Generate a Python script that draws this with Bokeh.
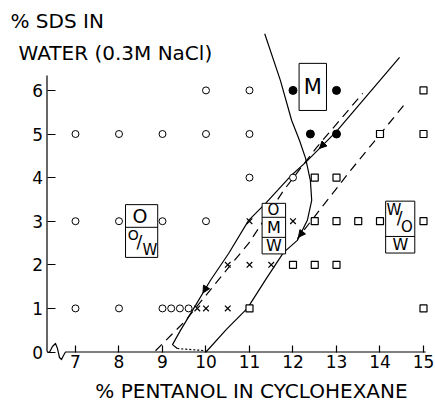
from bokeh.plotting import figure
from bokeh.models import Range1d, FixedTicker, Arrow, NormalHead
from bokeh.embed import file_html
from bokeh.resources import INLINE
from bokeh.core.properties import value

FONT = "DejaVu Sans"

# ---------------- data ----------------
x_ticks = [7, 8, 9, 10, 11, 12, 13, 14, 15]
y_ticks = [0, 1, 2, 3, 4, 5, 6]

# open circles
open_x = [10, 11, 7, 8, 9, 10, 11, 11, 12, 7, 8, 9, 10, 7, 8, 9, 9.2, 9.4, 9.6]
open_y = [6, 6, 5, 5, 5, 5, 5, 4, 4, 3, 3, 3, 3, 1, 1, 1, 1, 1, 1]
# filled circles
filled_x = [12, 13, 12.4, 13]
filled_y = [6, 6, 5, 5]
# crosses
cross_x = [9.8, 10, 10.5, 10.5, 11, 11.5, 11, 12]
cross_y = [1, 1, 1, 2, 2, 2, 3, 3]
# squares
square_x = [11, 15, 12, 12.5, 13, 12.5, 13, 13.5, 14, 15, 12.5, 13, 14, 15, 15]
square_y = [1, 1, 2, 2, 2, 3, 3, 3, 3, 3, 4, 4, 5, 5, 6]

# solid curve A (steep upper branch + right side of the lens)
curve_a_x = [11.35, 11.71, 11.97, 12.15, 12.29, 12.40, 12.43, 12.33, 12.10, 11.78, 11.39, 10.95, 10.47, 10.0]
curve_a_y = [7.30, 6.23, 5.31, 4.85, 4.44, 3.93, 3.48, 3.02, 2.56, 2.28, 1.69, 1.00, 0.52, 0.0]
# solid curve B (upper diagonal + left side of the lens)
curve_b_x = [14.45, 13.00, 12.29, 11.94, 11.37, 10.98, 10.52, 10.10, 9.76, 9.41, 9.23, 9.34]
curve_b_y = [6.76, 5.06, 4.35, 4.03, 3.41, 3.02, 2.26, 1.64, 1.07, 0.49, 0.17, 0.08]
# dotted closing segment along the bottom
dotted_x = [9.34, 10.0]
dotted_y = [0.08, 0.03]
# dashed lines
dash1_x = [8.84, 9.51, 10.52, 10.98, 11.78, 12.54, 13.60]
dash1_y = [0.03, 0.70, 1.94, 2.49, 3.70, 4.69, 5.93]
dash2_x = [14.54, 13.32, 12.10]
dash2_y = [5.65, 4.16, 2.60]

# phase boxes: left, right, top, bottom, dividers
boxes = [
    dict(l=12.14, r=12.77, t=6.62, b=5.54, div=[]),
    dict(l=11.29, r=11.83, t=3.41, b=2.25, div=[3.09, 2.63]),
    dict(l=14.13, r=14.80, t=3.46, b=2.27, div=[2.65]),
    dict(l=8.15, r=8.89, t=3.38, b=2.17, div=[2.86]),
]
box_text = ["M", "O", "M", "W", "W", "/", "O", "W", "O", "O", "/", "W"]
box_text_x = [12.455, 11.55, 11.56, 11.56, 14.32, 14.45, 14.62, 14.47, 8.48, 8.33, 8.47, 8.71]
box_text_y = [6.08, 3.25, 2.86, 2.44, 3.26, 3.08, 2.86, 2.46, 3.12, 2.69, 2.52, 2.35]
box_text_size = ["21px", "15px", "16px", "16px", "15px", "17px", "15px", "16px", "19px", "14px", "17px", "15px"]

# axis titles
y_title = ["% SDS IN", "WATER (0.3M NaCl)"]
x_title = "% PENTANOL IN CYCLOHEXANE"

# ---------------- figure ----------------
p = figure(width=435, height=402, title=None,
           x_range=Range1d(5.276, 15.276), y_range=Range1d(-1.158, 8.062),
           output_backend="svg", toolbar_location=None,
           min_border_left=0, min_border_right=0, min_border_top=0, min_border_bottom=0)
p.outline_line_color = None
p.grid.visible = False
p.background_fill_color = "white"

AX_X = 6.345   # position of the vertical axis (x data units)
AX_TOP = 6.34  # top of the vertical axis line

for ax, ticks in ((p.xaxis, x_ticks), (p.yaxis, y_ticks)):
    ax.ticker = FixedTicker(ticks=ticks)
    ax.axis_line_color = None
    ax.major_tick_out = 0
    ax.minor_tick_line_color = None
    ax.major_label_text_font = FONT
    ax.major_label_text_font_size = "17px"
    ax.major_label_text_color = "black"
    ax.major_tick_line_color = "black"
    ax.major_tick_line_width = 1.2
p.xaxis.fixed_location = 0
p.yaxis.fixed_location = AX_X
p.xaxis.major_tick_in = 7
p.xaxis.major_label_standoff = 3
p.yaxis.major_tick_in = 8
p.yaxis.major_label_standoff = 4

# axis lines, with the break symbol on the horizontal axis
p.line([AX_X, AX_X], [0.01, AX_TOP], line_color="black", line_width=1.2)
brk_x = [AX_X, 6.40, 6.47, 6.54, 6.586, 6.632, 6.678, 6.724, 6.77, 15.05]
brk_y = [0.01, -0.01, 0.126, 0.195, 0.08, -0.126, -0.172, -0.08, 0.0, 0.0]
p.line(brk_x, brk_y, line_color="black", line_width=1.2, line_join="round")

# curves
p.line(curve_a_x, curve_a_y, line_color="black", line_width=1.2)
p.line(curve_b_x, curve_b_y, line_color="black", line_width=1.2)
p.line(dotted_x, dotted_y, line_color="black", line_width=1.2, line_dash="2 2")
p.line(dash1_x, dash1_y, line_color="black", line_width=1.2, line_dash="9 6")
p.line(dash2_x, dash2_y, line_color="black", line_width=1.2, line_dash="9 6")

# arrowheads along the curves
def head(xs, ys, i, f=0.5):
    x0 = xs[i] + (f - 0.05) * (xs[i + 1] - xs[i])
    y0 = ys[i] + (f - 0.05) * (ys[i + 1] - ys[i])
    x1 = xs[i] + f * (xs[i + 1] - xs[i])
    y1 = ys[i] + f * (ys[i + 1] - ys[i])
    p.add_layout(Arrow(end=NormalHead(size=7, fill_color="black", line_color="black", line_width=1),
                       x_start=x0, y_start=y0, x_end=x1, y_end=y1, line_color=None))

head(curve_b_x, curve_b_y, 1, 0.55)
head(curve_b_x, curve_b_y, 7, 0.5)
head(dash2_x, dash2_y, 1, 0.98)

# markers
p.scatter(open_x, open_y, marker="circle", size=7, fill_color="white", line_color="black", line_width=1)
p.scatter(filled_x, filled_y, marker="circle", size=8, fill_color="black", line_color="black")
p.scatter(cross_x, cross_y, marker="x", size=8, line_color="black", line_width=1.2)
p.scatter(square_x, square_y, marker="square", size=7, fill_color="white", line_color="black", line_width=1.2)

# phase boxes
p.quad(left=[b["l"] for b in boxes], right=[b["r"] for b in boxes],
       top=[b["t"] for b in boxes], bottom=[b["b"] for b in boxes],
       fill_color="white", line_color="black", line_width=1)
seg_x0, seg_x1, seg_y = [], [], []
for b in boxes:
    for d in b["div"]:
        seg_x0.append(b["l"]); seg_x1.append(b["r"]); seg_y.append(d)
p.segment(x0=seg_x0, x1=seg_x1, y0=seg_y, y1=seg_y, line_color="black", line_width=1)
p.text(x=box_text_x, y=box_text_y, text=box_text, text_font=value(FONT),
       text_font_size=box_text_size, text_align="center", text_baseline="middle",
       text_color="black")

# axis titles (as text in the plot area)
p.text(x=[5.506, 5.690], y=[7.603, 6.858], text=y_title, text_font=value(FONT),
       text_font_size=value("20px"), text_align="left", text_baseline="middle",
       text_color="black")
p.text(x=[11.046], y=[-0.883], text=[x_title], text_font=value(FONT),
       text_font_size=value("20px"), text_align="center", text_baseline="middle",
       text_color="black")

open("out.html", "w").write(file_html(p, INLINE))
